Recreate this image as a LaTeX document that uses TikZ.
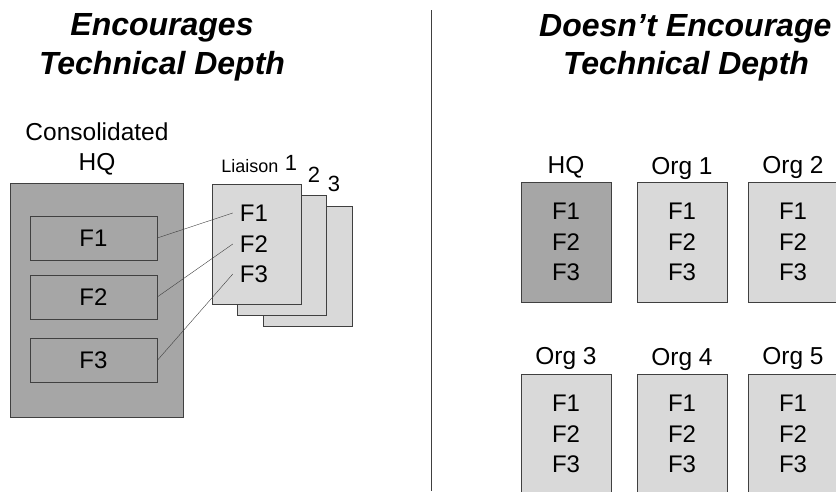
\documentclass[tikz,border=0pt]{standalone}
\usepackage{fontspec}
\setmainfont{Liberation Sans}
\usetikzlibrary{positioning}

\definecolor{darkfill}{HTML}{A6A6A6}
\definecolor{lightfill}{HTML}{D9D9D9}
\definecolor{edgegray}{HTML}{404040}

\tikzset{
    title/.style={font=\bfseries\itshape\fontsize{32}{34}\selectfont, inner sep=0pt, anchor=base},
    label/.style={font=\fontsize{24.5}{30}\selectfont, inner sep=0pt, anchor=base},
    hqbox/.style={draw=edgegray, fill=darkfill, minimum width=173pt, minimum height=234pt, inner sep=0pt},
    funcbox/.style={draw=edgegray, fill=darkfill, minimum width=127pt, minimum height=44pt, inner sep=0pt, font=\fontsize{24}{30}\selectfont},
    pagebox/.style={draw=edgegray, fill=lightfill, minimum width=89pt, minimum height=120pt, inner sep=0pt},
    orgbox/.style={draw=edgegray, fill=lightfill, minimum width=90pt, minimum height=120pt, inner sep=0pt, align=center, font=\fontsize{24}{30.5}\selectfont},
    pagetext/.style={font=\fontsize{24}{30}\selectfont, inner xsep=7pt, inner ysep=0pt},
    digit/.style={font=\fontsize{22}{24}\selectfont, inner sep=0pt},
    link/.style={draw=edgegray, thin}
}

\begin{document}
\begin{tikzpicture}[x=1pt, y=-1pt]
        \useasboundingbox (0,0) rectangle (836,491);
        \clip (0,0) rectangle (836,491);

        % titles and divider
        \node[title] (encTop) at (162,35) {Encourages};
        \node[title] (encBottom) at (162,74) {Technical Depth};
        \node[title, anchor=base west] (notTop) at (539,36) {Doesn’t Encourage};
        \node[title] (notBottom) at (686,74) {Technical Depth};
        \coordinate (divTop) at (431,10);
        \coordinate (divBottom) at (431,491);
        \draw[edgegray, thin] (divTop) -- (divBottom);

        % consolidated HQ
        \node[label] (hqName) at (97,140) {Consolidated};
        \node[label] (hqName2) at (97,170) {HQ};
        \node[hqbox] (hq) at (96.5,300) {};
        \node[funcbox] (f1) at (93.5,238) {F1};
        \node[funcbox] (f2) at (93.5,297) {F2};
        \node[funcbox] (f3) at (93.5,360.5) {F3};

        % liaison pages
        \node[pagebox] (page3) at (308,266) {};
        \node[pagebox] (page2) at (282,255.5) {};
        \node[pagebox] (page1) at (256.5,244) {};
        \node[pagetext] (p1) at (254,213) {F1};
        \node[pagetext] (p2) at (254,244) {F2};
        \node[pagetext] (p3) at (254,274) {F3};
        \node[font=\fontsize{18}{20}\selectfont, inner sep=0pt, anchor=base] (liaison) at (250,172) {Liaison};
        \node[digit] (n1) at (291,163) {1};
        \node[digit] (n2) at (314,175) {2};
        \node[digit] (n3) at (334,184) {3};

        \path[link] (f1.east) -- (p1.west);
        \path[link] (f2.east) -- (p2.west);
        \path[link] (f3.east) -- (p3.west);

        % separate orgs
        \node[orgbox, fill=darkfill] (hqOrg) at (566,242) {F1\\F2\\F3};
        \node[orgbox] (org1) at (682,242) {F1\\F2\\F3};
        \node[orgbox] (org2) at (793,242) {F1\\F2\\F3};
        \node[orgbox] (org3) at (566,434) {F1\\F2\\F3};
        \node[orgbox] (org4) at (682,434) {F1\\F2\\F3};
        \node[orgbox] (org5) at (793,434) {F1\\F2\\F3};

        \node[label] (hqOrgName) at (566,173) {HQ};
        \node[label] (org1Name) at (682,174) {Org 1};
        \node[label] (org2Name) at (793,173) {Org 2};
        \node[label] (org3Name) at (566,364) {Org 3};
        \node[label] (org4Name) at (682,365) {Org 4};
        \node[label] (org5Name) at (793,364) {Org 5};

    \end{tikzpicture}
\end{document}
